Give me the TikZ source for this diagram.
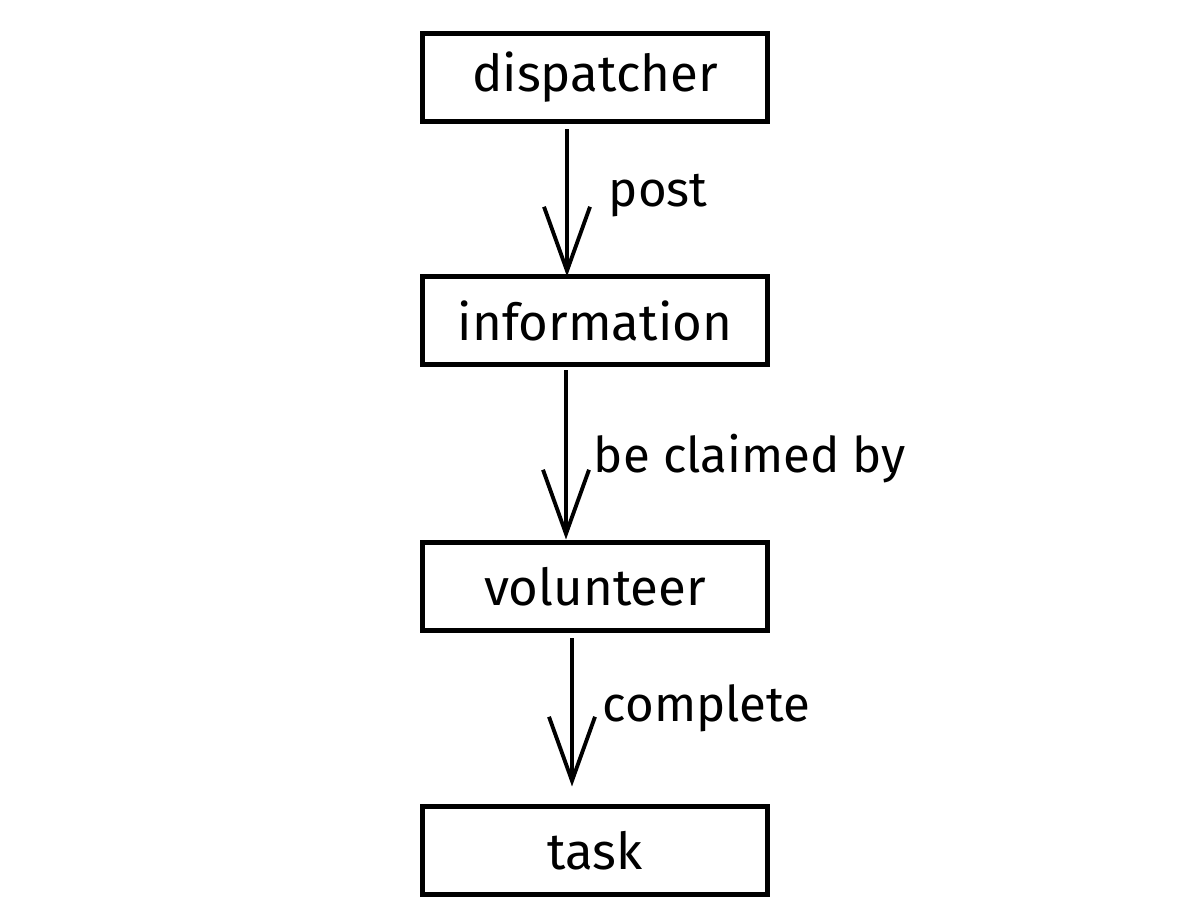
\documentclass[tikz,border=0pt]{standalone}
\usepackage{fontspec}
\setmainfont{Fira Sans}
\usepackage{tikz}
\usetikzlibrary{positioning, arrows.meta, calc}

\begin{document}
\begin{tikzpicture}[
            stage/.style={draw=black, line width=1.4pt, rectangle, minimum width=3.45cm, minimum height=0.88cm, outer sep=0pt, font=\fontsize{14.5}{16}\selectfont},
            flow/.style={line width=1.1pt, -{Straight Barb[length=6.4mm, width=4.6mm, line width=1.1pt]}},
            actlabel/.style={font=\fontsize{14}{16}\selectfont, inner sep=0pt}
        ]
        \useasboundingbox (0,0) rectangle (12.04,9.22);

        % nodes
        \node[stage] (disp) at (5.95,8.445) {dispatcher};
        \node[stage, below=1.55cm of disp] (info) {information};
        \node[stage, below=1.78cm of info] (vol) {volunteer};
        \node[stage, below=1.76cm of vol] (task) {task};

        % edges
        \draw[flow, shorten <=0.08cm] ([xshift=-2.8mm]disp.south) -- ([xshift=-2.8mm]info.north) node[pos=0.48, right=4mm, actlabel] {post};
        \draw[flow, shorten <=0.06cm, shorten >=0.03cm] ([xshift=-2.9mm]info.south) -- ([xshift=-2.9mm]vol.north) node[pos=0.53, right=2.6mm, actlabel] {be claimed by};
        \draw[flow, shorten <=0.08cm, shorten >=0.2cm] ([xshift=-2.3mm]vol.south) -- ([xshift=-2.3mm]task.north) node[pos=0.44, right=2.9mm, actlabel] {complete};

    \end{tikzpicture}
\end{document}
